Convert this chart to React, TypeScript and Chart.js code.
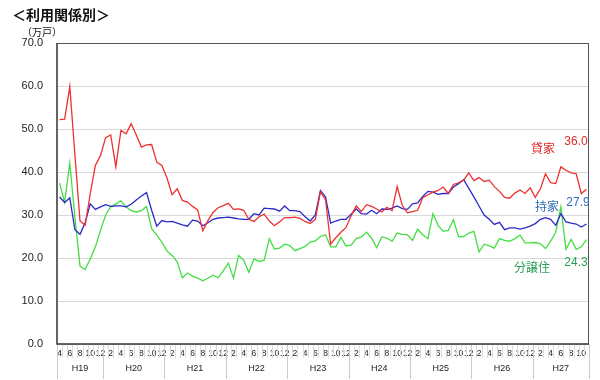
import React, { useEffect, useRef } from "react";
import { Chart, registerables } from "chart.js";
Chart.register(...registerables);

const yearNames = ["H19", "H20", "H21", "H22", "H23", "H24", "H25", "H26", "H27"];
const yearFirstMonth = [4, 1, 1, 1, 1, 1, 1, 1, 1];
const yearLastMonth = [12, 12, 12, 12, 12, 12, 12, 12, 11];

const categories: string[] = [];
const categoryMonths: number[] = [];
yearNames.forEach((y, k) => {
  for (let m = yearFirstMonth[k]; m <= yearLastMonth[k]; m++) {
    categories.push(y + "/" + m);
    categoryMonths.push(m);
  }
});

const seriesNames = ["貸家", "持家", "分譲住"];

// 貸家 (rental)
const rental = [
  52.2, 52.3, 59.9, 44.0, 28.6, 27.6, 35.0, 41.5, 43.8, 48.0,
  48.6, 41.2, 49.7, 48.9, 51.2, 48.6, 45.8, 46.3, 46.4, 42.3,
  41.5, 38.6, 34.7, 36.1, 33.4, 33.0, 32.0, 31.2, 26.3, 28.7,
  30.6, 31.7, 32.2, 32.7, 31.3, 31.4, 31.1, 29.0, 28.5, 29.6,
  30.2, 28.6, 27.5, 28.4, 29.4, 29.4, 29.5, 29.2, 28.5, 28.0,
  29.0, 35.4, 33.5, 23.2, 24.7, 26.0, 27.1, 29.8, 32.1, 30.8,
  32.4, 32.0, 31.4, 30.7, 31.8, 31.0, 36.6, 32.2, 30.5, 30.8,
  31.1, 34.0, 34.7, 35.3, 35.7, 36.5, 35.0, 37.1, 37.5, 38.1,
  39.8, 38.0, 38.7, 37.8, 38.1, 36.6, 35.5, 34.1, 33.9, 35.1,
  35.8, 35.0, 36.3, 34.1, 36.1, 39.6, 37.5, 37.3, 41.2, 40.4,
  39.8, 39.6, 35.0, 36.0,
];

// 持家 (owner-occupied)
const owner = [
  34.2, 32.9, 34.0, 26.6, 25.5, 28.2, 32.6, 31.3, 31.9, 32.4,
  32.0, 32.1, 32.1, 31.9, 32.5, 33.5, 34.4, 35.2, 31.1, 27.4,
  28.7, 28.4, 28.5, 28.1, 27.7, 27.4, 28.8, 28.6, 27.5, 28.2,
  29.0, 29.3, 29.4, 29.5, 29.3, 29.1, 29.0, 29.0, 30.3, 30.0,
  31.6, 31.5, 31.4, 30.9, 32.1, 31.0, 31.0, 30.8, 29.6, 28.6,
  30.0, 35.7, 34.2, 28.1, 28.6, 29.0, 29.0, 30.2, 31.4, 30.3,
  30.2, 31.1, 30.3, 31.4, 31.3, 31.6, 32.1, 31.5, 31.3, 32.6,
  32.8, 34.3, 35.5, 35.3, 34.8, 35.0, 35.0, 36.5, 37.3, 38.2,
  36.2, 34.2, 32.1, 30.0, 29.0, 27.8, 28.3, 26.6, 27.0, 27.0,
  26.7, 27.0, 27.4, 28.0, 29.0, 29.4, 29.0, 27.6, 30.3, 28.4,
  28.1, 27.9, 27.2, 27.9,
];

// 分譲住宅 (for sale)
const forSale = [
  37.4, 33.0, 42.1, 29.5, 18.1, 17.3, 19.8, 22.6, 26.4, 30.0,
  31.9, 32.6, 33.3, 31.9, 31.0, 30.7, 31.0, 32.0, 26.8, 25.3,
  23.7, 21.6, 20.6, 19.1, 15.4, 16.5, 15.8, 15.3, 14.7, 15.3,
  16.0, 15.4, 17.0, 18.8, 15.3, 20.6, 19.5, 16.7, 19.8, 19.2,
  19.5, 24.5, 22.1, 22.3, 23.2, 22.9, 21.7, 22.2, 22.7, 23.7,
  24.0, 25.0, 25.4, 22.6, 22.6, 24.8, 22.8, 23.0, 24.5, 24.9,
  26.0, 24.6, 22.4, 24.9, 24.6, 23.9, 25.8, 25.5, 25.4, 24.1,
  26.7, 25.4, 24.5, 30.3, 27.6, 26.2, 26.4, 28.9, 24.9, 25.0,
  25.8, 26.2, 21.4, 23.2, 22.8, 22.3, 24.5, 24.1, 23.9, 24.5,
  25.3, 23.5, 23.5, 23.6, 23.3, 22.2, 23.9, 26.0, 31.9, 22.0,
  24.3, 22.0, 22.6, 24.3,
];

const yTicks = [0, 10, 20, 30, 40, 50, 60, 70];

const LINE_COLORS = ["#ee3030", "#2a2ac8", "#44dd44"];
const TEXT_COLORS = ["#e02a2a", "#2e6eb4", "#2a9e55"];
const NUM_FONT = "'Liberation Sans', Arial, sans-serif";
const JP_FONT = "'Noto Sans CJK JP', 'Noto Sans', sans-serif";

const decorPlugin = {
  id: "decor",
  afterDraw(chart: any) {
    const ctx = chart.ctx as CanvasRenderingContext2D;
    const { left, right, top, bottom } = chart.chartArea;
    const n = categories.length;
    const step = (right - left) / n;
    ctx.save();

    // month tick lines
    ctx.strokeStyle = "#dcdcdc";
    ctx.lineWidth = 1;
    for (let i = 0; i <= n; i++) {
      const xb = Math.round(left + i * step) + 0.5;
      ctx.beginPath();
      ctx.moveTo(xb, bottom);
      ctx.lineTo(xb, bottom + 14);
      ctx.stroke();
    }
    // year separators and labels
    let start = 0;
    ctx.font = "9px " + NUM_FONT;
    ctx.fillStyle = "#222";
    ctx.textAlign = "center";
    ctx.textBaseline = "middle";
    const bounds: number[] = [0];
    yearNames.forEach((y, k) => {
      const cnt = yearLastMonth[k] - yearFirstMonth[k] + 1;
      const end = start + cnt;
      bounds.push(end);
      ctx.fillText(y, left + ((start + end) / 2) * step, 369);
      start = end;
    });
    ctx.strokeStyle = "#cccccc";
    bounds.forEach((b) => {
      const xb = Math.round(left + b * step) + 0.5;
      ctx.beginPath();
      ctx.moveTo(xb, bottom);
      ctx.lineTo(xb, 379);
      ctx.stroke();
    });

    // plot frame
    ctx.strokeStyle = "#555";
    ctx.lineWidth = 1;
    ctx.beginPath();
    ctx.moveTo(left, top + 0.5);
    ctx.lineTo(right, top + 0.5);
    ctx.moveTo(right - 0.5, top);
    ctx.lineTo(right - 0.5, bottom);
    ctx.stroke();
    ctx.strokeStyle = "#333";
    ctx.lineWidth = 1.5;
    ctx.beginPath();
    ctx.moveTo(left, top);
    ctx.lineTo(left, bottom);
    ctx.lineTo(right, bottom);
    ctx.stroke();

    // title and unit
    ctx.textAlign = "left";
    ctx.fillStyle = "#111";
    ctx.font = "bold 14px " + JP_FONT;
    ctx.fillText("＜利用関係別＞", 12, 15);
    ctx.font = "10px " + JP_FONT;
    ctx.fillText("（万戸）", 22, 32);

    // series labels
    const lastVals = [rental, owner, forSale].map((a) => a[a.length - 1].toFixed(1));
    const namePos = [
      [543, 148],
      [547, 206],
      [532, 267],
    ];
    const valPos = [
      [576, 142],
      [578, 203],
      [576, 263],
    ];
    for (let s = 0; s < 3; s++) {
      ctx.fillStyle = TEXT_COLORS[s];
      ctx.textAlign = "center";
      ctx.font = "12px " + JP_FONT;
      ctx.fillText(seriesNames[s], namePos[s][0], namePos[s][1]);
      ctx.font = "12px " + NUM_FONT;
      ctx.fillText(lastVals[s], valPos[s][0], valPos[s][1]);
    }
    ctx.restore();
  },
};

export default function App() {
  const ref = useRef<HTMLCanvasElement | null>(null);
  useEffect(() => {
    if (!ref.current) return;
    const chart = new Chart(ref.current, {
      type: "line",
      data: {
        labels: categories,
        datasets: [rental, owner, forSale].map((d, s) => ({
          label: seriesNames[s],
          data: d,
          borderColor: LINE_COLORS[s],
          backgroundColor: LINE_COLORS[s],
          borderWidth: 1.3,
          pointRadius: 0,
          tension: 0,
          fill: false,
        })),
      },
      options: {
        animation: false,
        responsive: false,
        maintainAspectRatio: false,
        layout: { padding: { top: 43, right: 11, left: 0, bottom: 0 } },
        plugins: {
          legend: { display: false },
          tooltip: { enabled: false },
          title: { display: false },
        },
        scales: {
          x: {
            type: "category",
            offset: true,
            grid: { display: false, drawTicks: false },
            border: { display: false },
            ticks: {
              autoSkip: false,
              maxRotation: 0,
              minRotation: 0,
              padding: 5,
              color: "#222",
              font: { size: 8.5, family: NUM_FONT },
              callback: (_v: any, i: number) => {
                const m = categoryMonths[i];
                return m % 2 === 0 ? String(m) : "";
              },
            },
            afterFit: (s: any) => {
              s.height = 36;
            },
          },
          y: {
            min: yTicks[0],
            max: yTicks[yTicks.length - 1],
            ticks: {
              stepSize: 10,
              padding: 14,
              color: "#222",
              font: { size: 11, family: NUM_FONT },
              callback: (v: any) => Number(v).toFixed(1),
            },
            grid: { color: "#d9d9d9", drawTicks: false, lineWidth: 1 },
            border: { display: false },
            afterFit: (s: any) => {
              s.width = 57;
            },
          },
        },
      },
      plugins: [decorPlugin],
    } as any);
    return () => chart.destroy();
  }, []);
  return (
    <div style={{ position: "absolute", left: 0, top: 0, width: 600, height: 380, background: "#fff" }}>
      <canvas ref={ref} width={600} height={380} style={{ width: 600, height: 380, display: "block" }} />
    </div>
  );
}
